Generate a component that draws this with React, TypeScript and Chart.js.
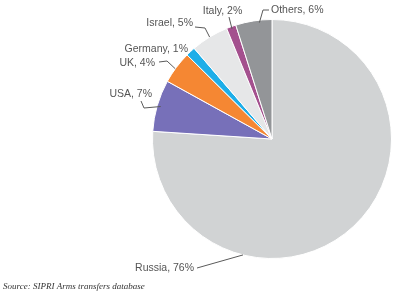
import React, { useEffect, useRef } from "react";
import { Chart, registerables } from "chart.js";

Chart.register(...registerables);

const countries = ["Russia", "USA", "UK", "Germany", "Israel", "Italy", "Others"];
const shares = [76.1, 7.0, 4.4, 1.3, 5.1, 1.3, 4.9];
const labelTexts = ["Russia, 76%", "USA, 7%", "UK, 4%", "Germany, 1%", "Israel, 5%", "Italy, 2%", "Others, 6%"];
const sliceColors = ["#d1d3d4", "#7770b9", "#f58733", "#1eaee8", "#e6e7e8", "#a4508e", "#939598"];
const sourceNote = "Source: SIPRI Arms transfers database";

// label placement: text anchor, alignment, leader elbow points, anchor on slice (fraction along arc, radius factor)
type Layout = { tx: number; ty: number; align: CanvasTextAlign; path: [number, number][]; frac: number; rf: number; leader: boolean };
const labelLayout: Layout[] = [
  { tx: 194, ty: 268, align: "right", path: [[197, 268]], frac: 0.709, rf: 1.0, leader: true },
  { tx: 152, ty: 94, align: "right", path: [[141, 101], [144, 108]], frac: 0.5, rf: 0.97, leader: true },
  { tx: 155, ty: 63, align: "right", path: [[159, 62], [167, 61]], frac: 0.45, rf: 1.0, leader: true },
  { tx: 188, ty: 49, align: "right", path: [], frac: 0.5, rf: 1.0, leader: false },
  { tx: 193, ty: 23, align: "right", path: [[195, 27], [205, 28]], frac: 0.5, rf: 1.0, leader: true },
  { tx: 222.5, ty: 11, align: "center", path: [[229, 17]], frac: 0.5, rf: 0.98, leader: true },
  { tx: 271, ty: 10, align: "left", path: [[269, 10], [263, 10]], frac: 0.65, rf: 0.98, leader: true },
];

const labelPlugin = {
  id: "pieLabels",
  afterDraw(chart: any) {
    const ctx = chart.ctx as CanvasRenderingContext2D;
    const meta = chart.getDatasetMeta(0);
    ctx.save();
    ctx.strokeStyle = "#5a5a5a";
    ctx.lineWidth = 1;
    meta.data.forEach((arc: any, i: number) => {
      const L = labelLayout[i];
      const { x, y, startAngle, endAngle, outerRadius } = arc.getProps(["x", "y", "startAngle", "endAngle", "outerRadius"], true);
      const a = startAngle + (endAngle - startAngle) * L.frac;
      const ax = x + Math.cos(a) * outerRadius * L.rf;
      const ay = y + Math.sin(a) * outerRadius * L.rf;
      if (L.leader && L.path.length) {
        ctx.beginPath();
        ctx.moveTo(L.path[0][0], L.path[0][1]);
        for (let k = 1; k < L.path.length; k++) ctx.lineTo(L.path[k][0], L.path[k][1]);
        ctx.lineTo(ax, ay);
        ctx.stroke();
      }
      ctx.font = "10.5px 'Liberation Sans', Arial, sans-serif";
      ctx.fillStyle = "#555555";
      ctx.textAlign = L.align;
      ctx.textBaseline = "middle";
      ctx.fillText(labelTexts[i], L.tx, L.ty);
    });
    ctx.font = "italic 9px 'Liberation Serif', 'Times New Roman', serif";
    ctx.fillStyle = "#333333";
    ctx.textAlign = "left";
    ctx.textBaseline = "middle";
    ctx.fillText(sourceNote, 3, 287);
    ctx.restore();
  },
};

export default function App() {
  const ref = useRef<HTMLCanvasElement>(null);
  useEffect(() => {
    if (!ref.current) return;
    const chart = new Chart(ref.current, {
      type: "pie",
      data: {
        labels: countries,
        datasets: [
          {
            data: shares,
            backgroundColor: sliceColors,
            borderColor: "#ffffff",
            borderWidth: 1,
          },
        ],
      },
      options: {
        responsive: false,
        animation: false,
        layout: { padding: { left: 151, right: 7, top: 19, bottom: 37 } },
        plugins: { legend: { display: false }, tooltip: { enabled: false } },
      },
      plugins: [labelPlugin],
    });
    return () => chart.destroy();
  }, []);
  return (
    <div style={{ position: "absolute", left: 0, top: 0, width: 400, height: 296, background: "#fff" }}>
      <canvas ref={ref} width={400} height={296} style={{ display: "block" }} />
    </div>
  );
}
